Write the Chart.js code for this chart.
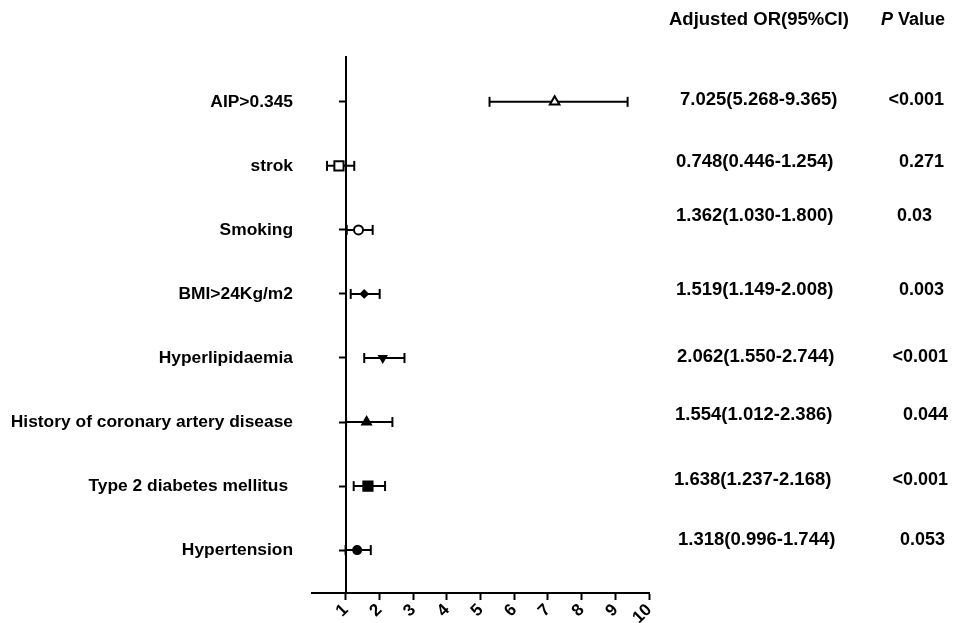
<!DOCTYPE html>
<html>
<head>
<meta charset="utf-8">
<title>Adjusted OR forest plot</title>
<script src="https://cdn.jsdelivr.net/npm/chart.js@4.4.1/dist/chart.umd.min.js"></script>
<style>
    html, body { margin: 0; padding: 0; background: #fff; }
    #wrap { width: 963px; height: 623px; }
</style>
</head>
<body>
<div id="wrap"><canvas id="forest" width="963" height="623"></canvas></div>
<script>
// Rows, top to bottom
const factors = ['AIP>0.345', 'strok', 'Smoking', 'BMI>24Kg/m2', 'Hyperlipidaemia',
    'History of coronary artery disease', 'Type 2 diabetes mellitus ', 'Hypertension'];
// Marker position as drawn in the plot
const estimates = [7.2, 0.8, 1.38, 1.55, 2.1, 1.62, 1.66, 1.34];
const lowerCI = [5.268, 0.446, 1.030, 1.149, 1.550, 1.012, 1.237, 0.996];
const upperCI = [9.365, 1.254, 1.800, 2.008, 2.744, 2.386, 2.168, 1.744];
const orLabels = ['7.025(5.268-9.365)', '0.748(0.446-1.254)', '1.362(1.030-1.800)', '1.519(1.149-2.008)',
    '2.062(1.550-2.744)', '1.554(1.012-2.386)', '1.638(1.237-2.168)', '1.318(0.996-1.744)'];
const pLabels = ['<0.001', '0.271', '0.03', '0.003', '<0.001', '0.044', '<0.001', '0.053'];
const xTicks = [1, 2, 3, 4, 5, 6, 7, 8, 9, 10];

// marker look per row
const markerStyle = ['triangle', 'rect', 'circle', 'rectRot', 'triangle', 'triangle', 'rect', 'circle'];
const markerRotation = [0, 0, 0, 0, 180, 0, 0, 0];
const markerFill = ['#fff', '#fff', '#fff', '#000', '#000', '#000', '#000', '#000'];
const markerSize = [5.5, 6.5, 4.5, 3.5, 4, 5, 6.5, 4];
// small nudges of the table text, as in the original figure
const textShiftY = [-2, -4, -14, -4, -1, -7, -6, -10];
const orShiftX = [3, -1, -1, -1, 0, -2, -3, 1];
const pShiftX = [-2, -2, -14, -2, 2, 2, 2, -1];

const FONT = '"Liberation Sans", Arial, Helvetica, sans-serif';
const n = factors.length;
const rowPos = i => n - i;

Chart.defaults.font.family = FONT;
Chart.defaults.color = '#000';

const rowTicks = scale => {
    scale.ticks = factors.map((_, i) => ({ value: rowPos(i) }));
};

// Table on the right
const tablePlugin = {
    id: 'orTable',
    afterDraw(chart) {
        const ctx = chart.ctx;
        const y = chart.scales.y;
        ctx.save();
        ctx.fillStyle = '#000';
        ctx.textBaseline = 'middle';

        ctx.font = `bold 18.5px ${FONT}`;
        ctx.textAlign = 'left';
        ctx.fillText('Adjusted OR(95%CI)', 669, 20);
        ctx.font = `italic bold 18px ${FONT}`;
        ctx.fillText('P', 881, 20);
        const pw = ctx.measureText('P ').width;
        ctx.font = `bold 18px ${FONT}`;
        ctx.fillText('Value', 881 + pw, 20);

        factors.forEach((_, i) => {
            const py = y.getPixelForValue(rowPos(i)) + textShiftY[i];
            ctx.font = `bold 18.5px ${FONT}`;
            ctx.textAlign = 'left';
            ctx.fillText(orLabels[i], 677 + orShiftX[i], py);
            ctx.font = `bold 18px ${FONT}`;
            ctx.textAlign = 'right';
            ctx.fillText(pLabels[i], 946 + pShiftX[i], py);
        });
        ctx.restore();
    }
};

const whiskerData = [];
factors.forEach((_, i) => {
    whiskerData.push({ x: lowerCI[i], y: rowPos(i) });
    whiskerData.push({ x: upperCI[i], y: rowPos(i) });
    whiskerData.push({ x: upperCI[i], y: null });
});

new Chart(document.getElementById('forest'), {
    type: 'scatter',
    data: {
        datasets: [
            {
                label: 'Adjusted OR',
                data: factors.map((_, i) => ({ x: estimates[i], y: rowPos(i) })),
                pointStyle: markerStyle,
                rotation: markerRotation,
                radius: markerSize,
                backgroundColor: markerFill,
                borderColor: '#000',
                borderWidth: 2
            },
            {
                label: '95% CI',
                data: whiskerData,
                showLine: true,
                spanGaps: false,
                borderColor: '#000',
                borderWidth: 2,
                pointStyle: 'line',
                rotation: 90,
                radius: 5,
                pointBorderWidth: 2
            }
        ]
    },
    plugins: [tablePlugin],
    options: {
        responsive: false,
        animation: false,
        layout: { padding: { left: 12, right: 314, top: 57, bottom: 0 } },
        plugins: {
            legend: { display: false },
            tooltip: { enabled: false }
        },
        scales: {
            x: {
                type: 'linear',
                min: 0,
                max: 10,
                afterBuildTicks: scale => { scale.ticks = xTicks.map(v => ({ value: v })); },
                afterFit: scale => { scale.height = 30; },
                border: { color: '#000', width: 2 },
                grid: { drawOnChartArea: false, tickLength: 7, tickWidth: 2, tickColor: '#000' },
                ticks: {
                    autoSkip: false,
                    minRotation: 45,
                    maxRotation: 45,
                    padding: 0,
                    font: { size: 17, weight: 'bold' },
                    color: '#000'
                }
            },
            y: {
                type: 'linear',
                position: { x: 1 },
                min: 0.33,
                max: 8.7,
                afterBuildTicks: rowTicks,
                border: { color: '#000', width: 2 },
                grid: { drawOnChartArea: false, tickLength: 6, tickWidth: 2, tickColor: '#000' },
                ticks: { display: false }
            },
            yNames: {
                type: 'linear',
                position: 'left',
                min: 0.33,
                max: 8.7,
                afterBuildTicks: rowTicks,
                afterFit: scale => { scale.width = 300; },
                border: { display: false },
                grid: { display: false },
                ticks: {
                    padding: 11,
                    font: { size: 17.4, weight: 'bold' },
                    color: '#000',
                    callback: v => factors[n - v]
                }
            }
        }
    }
});
</script>
</body>
</html>
